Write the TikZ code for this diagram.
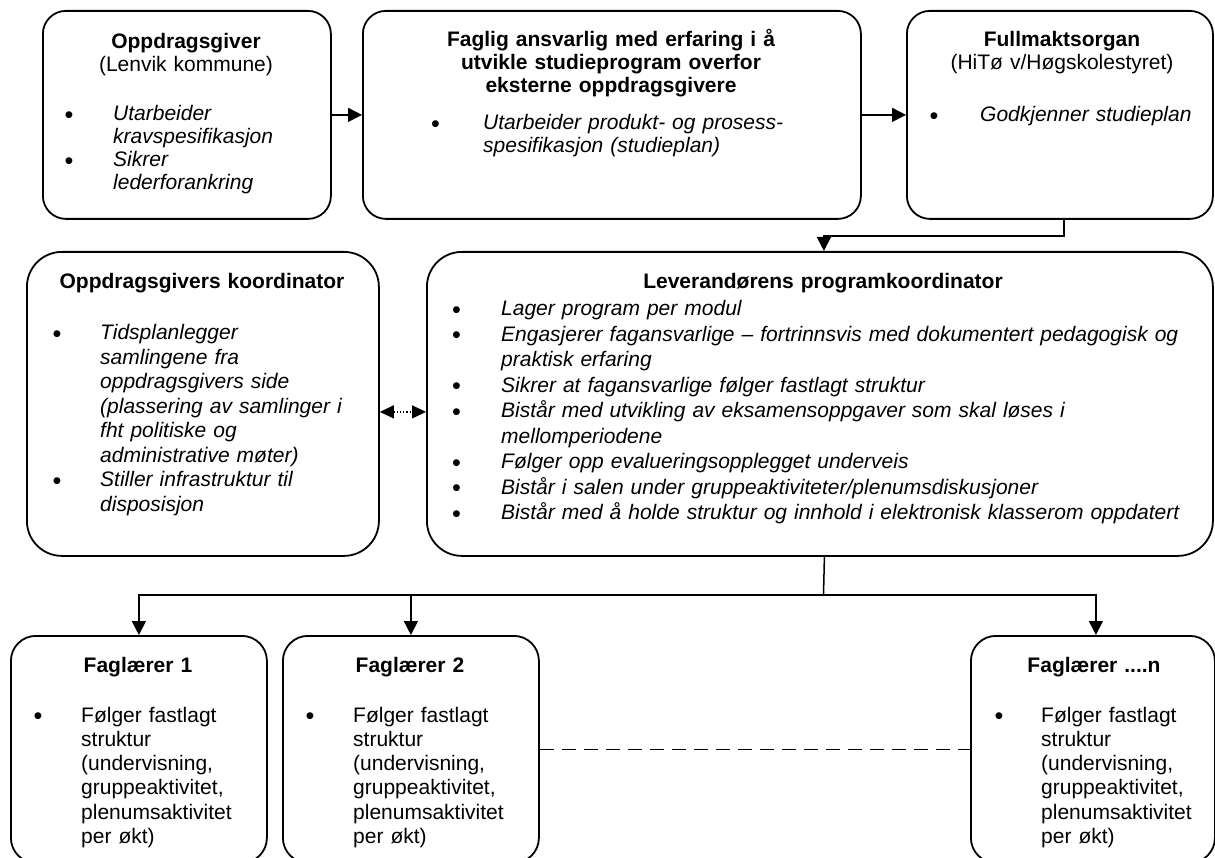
\documentclass[tikz,border=0pt]{standalone}
\usepackage{fontspec}
\usepackage{graphicx}
\setmainfont{Liberation Sans}
\usetikzlibrary{arrows.meta}

% bullet glyph, slightly enlarged
\newcommand\dotmark{\raisebox{-2.5pt}{\scalebox{1.2}{\normalfont\textbullet}}}
% one bullet item with a hanging indent: #1 = indent of the text, #2 = text
% (lines inside an item are broken with \newline so the indent is kept)
\newcommand\bitem[2]{\noindent\hangindent=#1\hangafter=1
  \hbox to #1{\dotmark\hfil}\ignorespaces#2\par}

\begin{document}
\begin{tikzpicture}[x=1pt,y=-1pt,
  card/.style={draw, line width=1.8pt, inner sep=0pt, anchor=north west, rounded corners=#1},
  card/.default=23pt,
  ttl/.style={anchor=base, inner sep=0pt, text width=400pt, align=center,
    font=\fontsize{21}{23}\selectfont\bfseries},
  lst/.style={anchor=base west, inner sep=0pt, text width=420pt, align=left,
    font=\fontsize{21}{#1}\selectfont},
  lst/.default=23pt,
  link/.style={line width=1.5pt, -{Triangle[length=14pt,width=14pt]}},
  wire/.style={line width=1.5pt},
]
\useasboundingbox (0,0) rectangle (1215,858);

% ---- top row ----
\node[card, minimum width=288pt, minimum height=208pt] (b1) at (42,10) {};
\node[ttl] (b1t) at (186,49) {Oppdragsgiver\\\normalfont(Lenvik kommune)};
\node[lst] (b1l) at (64.3,121) {\itshape
  \bitem{48.7pt}{Utarbeider\newline kravspesifikasjon}
  \bitem{48.7pt}{Sikrer\newline lederforankring}};

\node[card, minimum width=498pt, minimum height=208pt] (b2) at (362,10) {};
\node[ttl] (b2t) at (611,47) {Faglig ansvarlig med erfaring i å\\utvikle studieprogram overfor\\eksterne oppdragsgivere};
\node[lst] (b2l) at (431,130) {\itshape
  \bitem{52pt}{Utarbeider produkt- og prosess-\newline spesifikasjon (studieplan)}};

\node[card, minimum width=306pt, minimum height=208pt] (b3) at (906,10) {};
\node[ttl] (b3t) at (1062,47) {Fullmaktsorgan\\\normalfont(HiTø v/Høgskolestyret)};
\node[lst] (b3l) at (929.3,122) {\itshape
  \bitem{50.7pt}{Godkjenner studieplan}};

% ---- middle row ----
\node[card=35pt, minimum width=352pt, minimum height=304pt] (bk) at (26,251) {};
\node[ttl] (bkt) at (202,289) {Oppdragsgivers koordinator};
\node[lst=24.5pt] (bkl) at (52.3,340) {\itshape
  \bitem{47.7pt}{Tidsplanlegger\newline samlingene fra\newline oppdragsgivers side\newline (plassering av samlinger i\newline fht politiske og\newline administrative møter)}
  \bitem{47.7pt}{Stiller infrastruktur til\newline disposisjon}};

\node[card=35pt, minimum width=786pt, minimum height=304pt] (bl) at (426,251) {};
\node[ttl] (blt) at (823,289) {Leverandørens programkoordinator};
\node[lst=25.5pt, text width=740pt] (bll) at (451.8,316) {\itshape
  \bitem{49.2pt}{Lager program per modul}
  \bitem{49.2pt}{Engasjerer fagansvarlige – fortrinnsvis med dokumentert pedagogisk og\newline praktisk erfaring}
  \bitem{49.2pt}{Sikrer at fagansvarlige følger fastlagt struktur}
  \bitem{49.2pt}{Bistår med utvikling av eksamensoppgaver som skal løses i\newline mellomperiodene}
  \bitem{49.2pt}{Følger opp evalueringsopplegget underveis}
  \bitem{49.2pt}{Bistår i salen under gruppeaktiviteter/plenumsdiskusjoner}
  \bitem{49.2pt}{Bistår med å holde struktur og innhold i elektronisk klasserom oppdatert}};

% ---- bottom row ----
\node[card=25pt, minimum width=256pt, minimum height=227pt] (f1) at (10,635) {};
\node[ttl] (f1t) at (138,672) {Faglærer 1};
\node[lst=24.3pt] (f1l) at (33.3,722) {%
  \bitem{47.7pt}{Følger fastlagt\newline struktur\newline (undervisning,\newline gruppeaktivitet,\newline plenumsaktivitet\newline per økt)}};

\node[card=25pt, minimum width=256pt, minimum height=227pt] (f2) at (282,635) {};
\node[ttl] (f2t) at (410,672) {Faglærer 2};
\node[lst=24.3pt] (f2l) at (305.3,722) {%
  \bitem{47.7pt}{Følger fastlagt\newline struktur\newline (undervisning,\newline gruppeaktivitet,\newline plenumsaktivitet\newline per økt)}};

\node[card=25pt, minimum width=244pt, minimum height=227pt] (fn) at (970,635) {};
\node[ttl] (fnt) at (1094,672) {Faglærer ....n};
\node[lst=24.3pt] (fnl) at (994.3,722) {%
  \bitem{46.7pt}{Følger fastlagt\newline struktur\newline (undervisning,\newline gruppeaktivitet,\newline plenumsaktivitet\newline per økt)}};

% ---- connectors ----
\draw[link] (b1.east) -- (b2.west);
\draw[link] (b2.east) -- (b3.west);
\draw[link] ([xshift=4pt]b3.south) -- ++(0,16) -| ([xshift=4pt]bl.north);
\draw[line width=1.2pt, dotted, {Triangle[length=14pt,width=13pt]}-{Triangle[length=14pt,width=13pt]}]
  ([yshift=-8pt]bk.east) -- ([yshift=-8pt]bl.west);

\coordinate (hub) at (823.5,595);
\draw[wire] ([xshift=4.5pt]bl.south) -- (hub);
\draw[link] (hub) -| (f1.north);
\draw[link] (hub) -| (f2.north);
\draw[link] (hub) -| ([xshift=3pt]fn.north);
\draw[line width=1.5pt, dash pattern=on 14pt off 8pt] (f2.east) -- (fn.west);
\end{tikzpicture}
\end{document}
